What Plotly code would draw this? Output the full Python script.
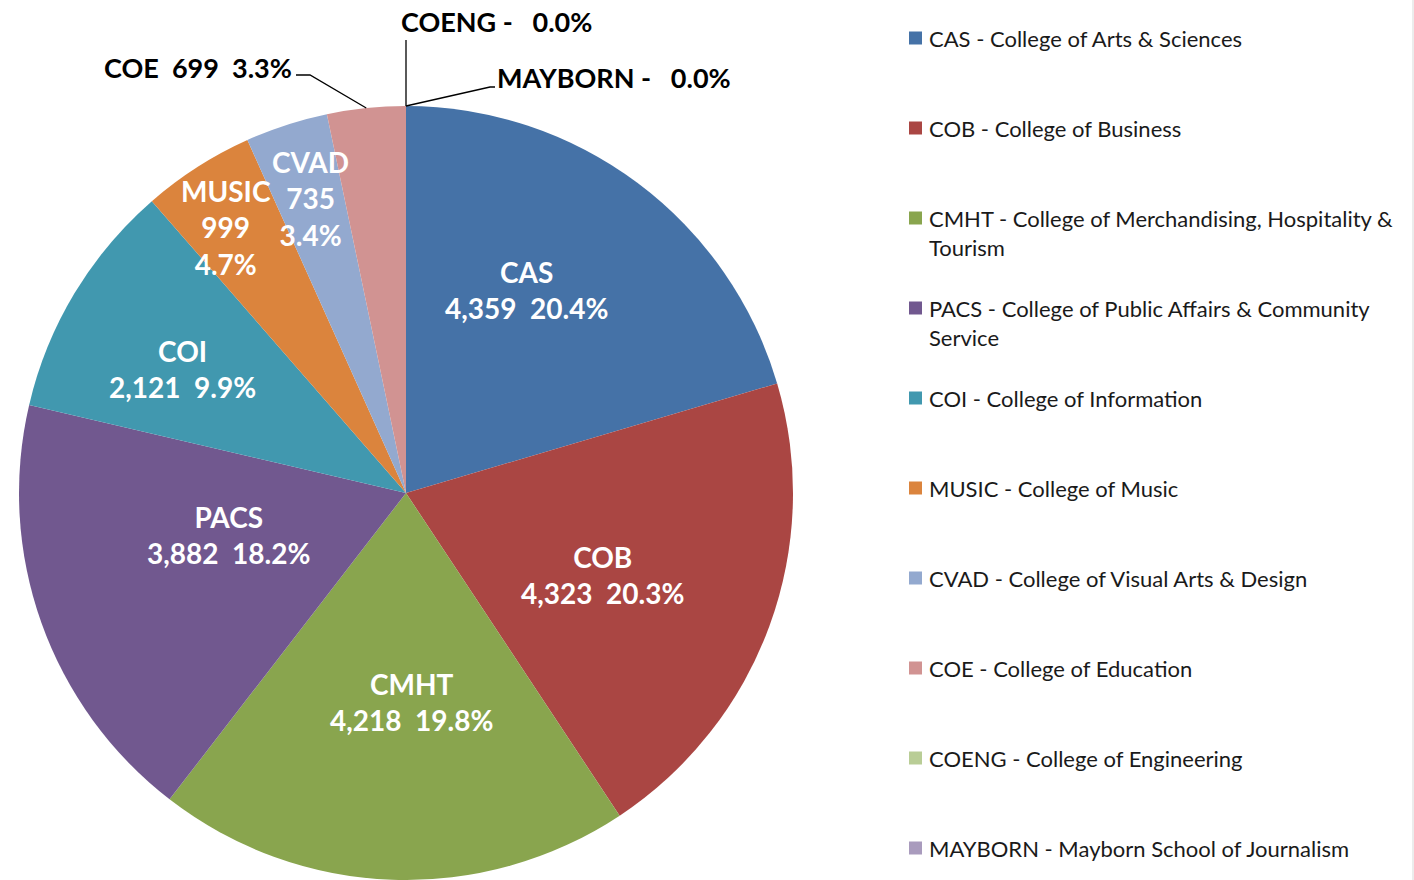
import math
import textwrap
import plotly.graph_objects as go

# ---------------- data ----------------
codes = ["CAS", "COB", "CMHT", "PACS", "COI", "MUSIC", "CVAD", "COE", "COENG", "MAYBORN"]
names = [
    "College of Arts & Sciences",
    "College of Business",
    "College of Merchandising, Hospitality & Tourism",
    "College of Public Affairs & Community Service",
    "College of Information",
    "College of Music",
    "College of Visual Arts & Design",
    "College of Education",
    "College of Engineering",
    "Mayborn School of Journalism",
]
values = [4359, 4323, 4218, 3882, 2121, 999, 735, 699, 0, 0]

# ---------------- style ----------------
colors = ["#4572A7", "#AA4643", "#89A54E", "#71588F", "#4198AF",
          "#DB843D", "#93A9CF", "#D19392", "#B9CD96", "#A99BBD"]
W, H = 1414, 880                     # figure size (page body margin removed)
CX, CY, R = 406, 493, 387            # pie centre / radius in pixels
FONT = "Lato, Carlito, Calibri, sans-serif"
IN_SIZE = 28
OUT_SIZE = 27
LEGEND_SIZE = 22

# inside-label placement: radius fraction, angular nudge (deg), number of lines
inside_r = [0.61, 0.55, 0.54, 0.47, 0.66, 0.83, 0.80]
inside_nudge = [-6.2, 2.6, -3.5, 6.4, -2.1, -1.5, 0.0]
inside_lines = [2, 2, 2, 2, 2, 3, 3]


def px(x):
    return x / W


def py(y):
    return 1 - y / H


def polar(frac_r, ang_deg):
    a = math.radians(ang_deg)
    return CX + frac_r * R * math.sin(a), CY - frac_r * R * math.cos(a)


total = sum(values)
pcts = [v / total for v in values]
mid_angles = []
cum = 0.0
for p in pcts:
    mid_angles.append((cum + p / 2) * 360)
    cum += p

fig = go.Figure()
fig.add_trace(go.Pie(
    labels=[f"{c} - {n}" for c, n in zip(codes, names)],
    values=values,
    sort=False,
    direction="clockwise",
    rotation=0,
    marker=dict(colors=colors, line=dict(width=0)),
    textinfo="none",
    hoverinfo="label+value+percent",
    showlegend=False,
    domain=dict(x=[px(CX - R), px(CX + R)], y=[max(0, py(CY + R)), py(CY - R)]),
))

annotations = []
shapes = []

# inside labels
for i in range(len(inside_r)):
    v = values[i]
    if inside_lines[i] == 2:
        txt = f"<b>{codes[i]}</b><br><b>{v:,}  {pcts[i]:.1%}</b>"
    else:
        txt = f"<b>{codes[i]}</b><br><b>{v:,}</b><br><b>{pcts[i]:.1%}</b>"
    x, y = polar(inside_r[i], mid_angles[i] + inside_nudge[i])
    annotations.append(dict(x=px(x), y=py(y), xref="paper", yref="paper",
                            text=txt, showarrow=False, xanchor="center", yanchor="middle",
                            font=dict(family=FONT, size=IN_SIZE, color="white")))


def outside_text(i):
    v = values[i]
    if v:
        return f"<b>{codes[i]}  {v:,}  {pcts[i]:.1%}</b>"
    return f"<b>{codes[i]} -   {pcts[i]:.1%}</b>"


# COE label with leader line
i = codes.index("COE")
ex, ey = polar(1.0, mid_angles[i])
shapes.append(dict(type="path", xref="paper", yref="paper",
                   path=f"M {px(ex)},{py(ey)} L {px(310)},{py(75)} L {px(296)},{py(75)}",
                   line=dict(color="black", width=1.3)))
annotations.append(dict(x=px(294), y=py(67), xref="paper", yref="paper", text=outside_text(i),
                        showarrow=False, xanchor="right", yanchor="middle",
                        font=dict(family=FONT, size=OUT_SIZE, color="black")))

# COENG label (vertical leader)
i = codes.index("COENG")
ex, ey = polar(1.0, mid_angles[i])
shapes.append(dict(type="path", xref="paper", yref="paper",
                   path=f"M {px(ex)},{py(ey)} L {px(ex)},{py(40)}",
                   line=dict(color="black", width=1.3)))
annotations.append(dict(x=px(497), y=py(21), xref="paper", yref="paper", text=outside_text(i),
                        showarrow=False, xanchor="center", yanchor="middle",
                        font=dict(family=FONT, size=OUT_SIZE, color="black")))

# MAYBORN label
i = codes.index("MAYBORN")
ex, ey = polar(1.0, mid_angles[i])
shapes.append(dict(type="path", xref="paper", yref="paper",
                   path=f"M {px(ex)},{py(ey)} L {px(490)},{py(87)} L {px(495)},{py(87)}",
                   line=dict(color="black", width=1.3)))
annotations.append(dict(x=px(495), y=py(77), xref="paper", yref="paper", text=outside_text(i),
                        showarrow=False, xanchor="left", yanchor="middle",
                        font=dict(family=FONT, size=OUT_SIZE, color="black")))

# legend (manual)
LEG_X, LEG_Y0, LEG_DY, LINE_H, SQ = 909, 38, 90, 29, 13
for k, (c, n) in enumerate(zip(codes, names)):
    yc = LEG_Y0 + k * LEG_DY
    shapes.append(dict(type="rect", xref="paper", yref="paper",
                       x0=px(LEG_X), x1=px(LEG_X + SQ), y0=py(yc - SQ / 2), y1=py(yc + SQ / 2),
                       fillcolor=colors[k], line=dict(width=0)))
    for j, line in enumerate(textwrap.wrap(f"{c} - {n}", width=46)):
        annotations.append(dict(x=px(LEG_X + 18), y=py(yc + j * LINE_H), xref="paper", yref="paper",
                                text=line, showarrow=False, xanchor="left", yanchor="middle",
                                font=dict(family=FONT, size=LEGEND_SIZE, color="#1a1a1a")))

# right border of chart area
shapes.append(dict(type="line", xref="paper", yref="paper", x0=px(1413), x1=px(1413), y0=0, y1=1,
                   line=dict(color="#D9D9D9", width=1)))

fig.update_layout(
    width=W, height=H,
    margin=dict(l=0, r=0, t=0, b=0),
    paper_bgcolor="white", plot_bgcolor="white",
    annotations=annotations, shapes=shapes,
    showlegend=False,
)

fig.write_html("out.html",
               config={"displayModeBar": False},
               post_script="document.body.style.margin='0px';document.body.style.overflow='hidden';")
